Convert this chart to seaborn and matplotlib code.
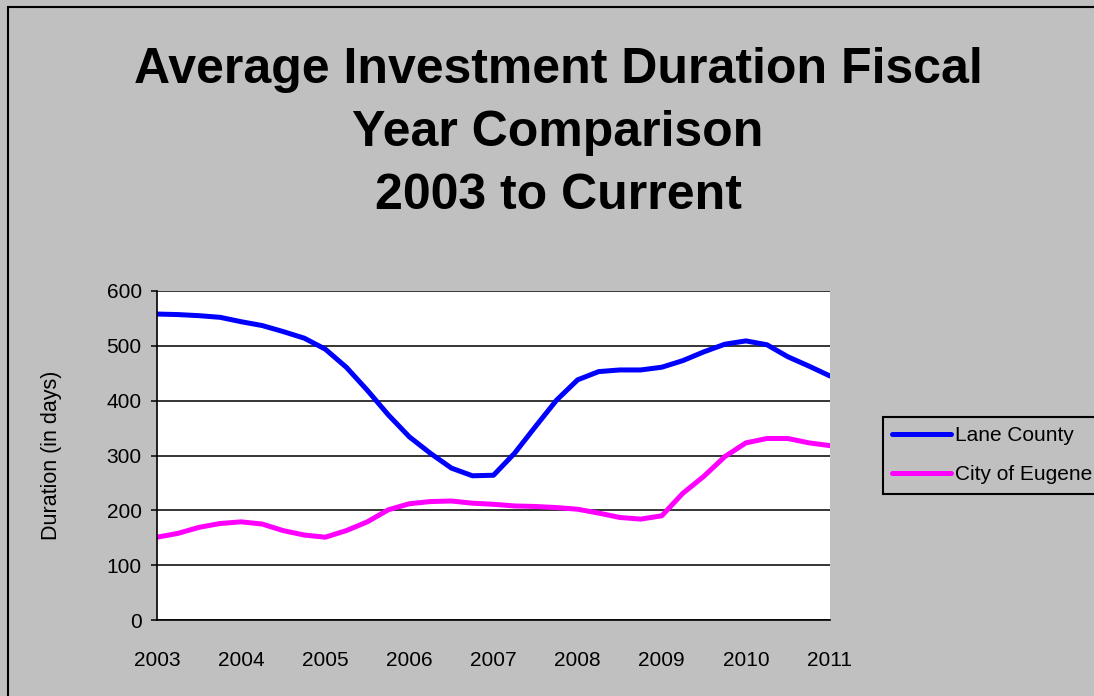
import numpy as np
import pandas as pd
import matplotlib.pyplot as plt
import seaborn as sns
from matplotlib.patches import Rectangle

# quarterly values, 2003 .. 2011
years = [2003, 2004, 2005, 2006, 2007, 2008, 2009, 2010, 2011]
lane_county = [558, 557, 555, 552, 544, 537, 526, 514,
               494, 461, 419, 374, 334, 304, 277, 263,
               264, 304, 353, 401, 438, 453, 456, 456,
               461, 473, 489, 503, 509, 502, 480, 463,
               445]
city_eugene = [151, 158, 169, 176, 179, 175, 163, 155,
               151, 163, 179, 201, 212, 216, 217, 213,
               211, 208, 207, 205, 202, 195, 187, 184,
               190, 231, 262, 298, 323, 331, 331, 323,
               318]
series_names = ['Lane County', 'City of Eugene']
colors = ['#0000FF', '#FF00FF']

quarters = [y + q / 4 for y in years[:-1] for q in range(4)] + [years[-1]]

df = pd.DataFrame({
    'quarter': quarters * 2,
    'duration': lane_county + city_eugene,
    'series': [series_names[0]] * len(quarters) + [series_names[1]] * len(quarters),
})

sns.set_style('white')
plt.rcParams['font.family'] = ['Liberation Sans', 'DejaVu Sans']
plt.rcParams['text.color'] = 'black'
plt.rcParams['axes.labelcolor'] = 'black'
plt.rcParams['xtick.color'] = 'black'
plt.rcParams['ytick.color'] = 'black'

bg = '#C0C0C0'
fig = plt.figure(figsize=(10.94, 6.96), dpi=100, facecolor=bg)
ax = fig.add_axes([157 / 1094, 1 - 620 / 696, (830 - 157) / 1094, (620 - 291) / 696])
ax.set_facecolor('white')

sns.lineplot(data=df, x='quarter', y='duration', hue='series',
             palette=colors, linewidth=3.6, ax=ax, legend=True,
             solid_joinstyle='round', solid_capstyle='round')

ax.set_xlim(years[0], years[-1])
ax.set_ylim(0, 600)
ax.set_yticks(range(0, 601, 100))
ax.set_xticks(years)
ax.set_xticklabels([str(y) for y in years])
ax.yaxis.grid(True, color='black', linewidth=1.1)
ax.xaxis.grid(False)
ax.set_axisbelow(True)
for s in ['top', 'right']:
    ax.spines[s].set_visible(False)
for s in ['left', 'bottom']:
    ax.spines[s].set_color('black')
    ax.spines[s].set_linewidth(1.2)
ax.tick_params(axis='y', left=True, length=4, width=1.1, color='black', pad=7, labelsize=15)
ax.tick_params(axis='x', bottom=False, pad=19, labelsize=15)
ax.set_xlabel('')
ax.set_ylabel('Duration (in days)', fontsize=15.5, labelpad=32)

fig.text(558 / 1094, 1 - 133 / 696,
         'Average Investment Duration Fiscal\nYear Comparison\n2003 to Current',
         ha='center', va='center', fontsize=36, fontweight='bold', linespacing=1.47)

handles, labels = ax.get_legend_handles_labels()
leg = fig.legend(handles, labels, loc='upper left',
                 bbox_to_anchor=(883 / 1094, 1 - 417 / 696),
                 frameon=True, fontsize=15, facecolor=bg, edgecolor='black',
                 fancybox=False, framealpha=1, borderaxespad=0,
                 borderpad=0.45, handlelength=2.8, handletextpad=0.2, labelspacing=0.95)
leg.get_frame().set_linewidth(1.5)
ax.get_legend().remove()

# outer chart border (runs off the right and bottom edges)
fig.patches.append(Rectangle((8 / 1094, -0.05), 1.2, 1 - 7 / 696 + 0.05,
                             transform=fig.transFigure, fill=False,
                             edgecolor='black', linewidth=1.5))

fig.savefig('out.png', dpi=100, facecolor=bg)
